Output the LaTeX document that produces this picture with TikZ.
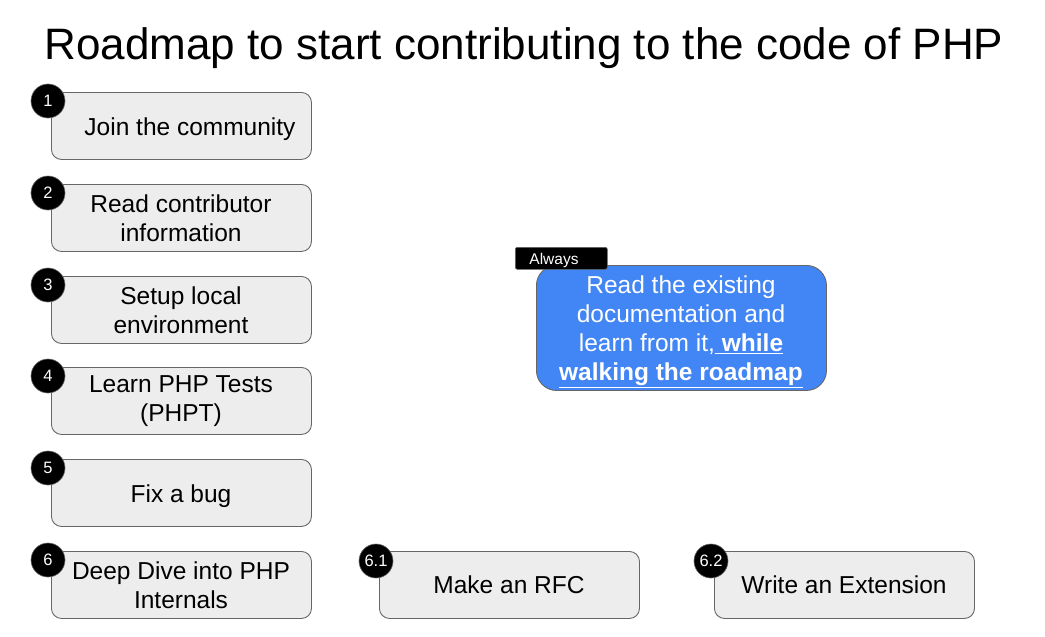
\documentclass[tikz,border=0pt]{standalone}
\usepackage{fontspec}
\setmainfont{Liberation Sans}
\begin{document}
\begin{tikzpicture}[x=1pt,y=-1pt,
  stepbox/.style={draw=black!60,line width=0.9pt,fill=black!7,rounded corners=10pt,minimum width=260pt,minimum height=67pt,anchor=north west,inner sep=0pt},
  steptxt/.style={font=\fontsize{24.5}{29}\selectfont,align=center,text=black},
  badge/.style={circle,fill=black,draw=black!60,line width=0.6pt,minimum size=34pt,inner sep=0pt,text=white,font=\fontsize{16.5}{16.5}\selectfont},
  ]
\useasboundingbox (0,0) rectangle (1045,637);
\node[font=\fontsize{44}{44}\selectfont] (title) at (524,48) {Roadmap to start contributing to the code of PHP};

\node[stepbox] (s1) at (51,92) {};
\node[steptxt] (t1) at (190,129) {Join the community};
\node[stepbox] (s2) at (51,184) {};
\node[steptxt] (t2) at (181,218) {Read contributor\\information};
\node[stepbox] (s3) at (51,276) {};
\node[steptxt] (t3) at (181,310) {Setup local\\environment};
\node[stepbox] (s4) at (51,367) {};
\node[steptxt] (t4) at (181,401) {Learn PHP Tests\\(PHPT)};
\node[stepbox] (s5) at (51,459) {};
\node[steptxt] (t5) at (181,496) {Fix a bug};
\node[stepbox] (s6) at (51,551) {};
\node[steptxt] (t6) at (181,585) {Deep Dive into PHP\\Internals};
\node[stepbox] (s61) at (379,551) {};
\node[steptxt] (t61) at (509,585) {Make an RFC};
\node[stepbox] (s62) at (714,551) {};
\node[steptxt] (t62) at (844,585) {Write an Extension};

\node[badge] (b1) at (48,101) {1};
\node[badge] (b2) at (48,193) {2};
\node[badge] (b3) at (48,285) {3};
\node[badge] (b4) at (48,376) {4};
\node[badge] (b5) at (48,468) {5};
\node[badge] (b6) at (48,560) {6};
\node[badge] (b61) at (376,561) {6.1};
\node[badge] (b62) at (711,561) {6.2};

\definecolor{gblue}{HTML}{4285F4}
\node[draw=black!60,line width=0.9pt,fill=gblue,rounded corners=20pt,minimum width=290pt,minimum height=125pt,anchor=north west,inner sep=0pt] (doc) at (536,265) {};
\node[steptxt,text=white] (doct) at (681,332) {Read the existing\\documentation and\\learn from it,\underline{\textbf{ while}}\\\underline{\textbf{walking the roadmap}}};
\node[fill=black,draw=black!60,line width=0.6pt,rounded corners=2pt,minimum width=92pt,minimum height=22pt,anchor=north west,inner sep=0pt] (alw) at (515,247) {};
\node[text=white,font=\fontsize{15.5}{15.5}\selectfont] (alwt) at (554,260) {Always};
\end{tikzpicture}
\end{document}
